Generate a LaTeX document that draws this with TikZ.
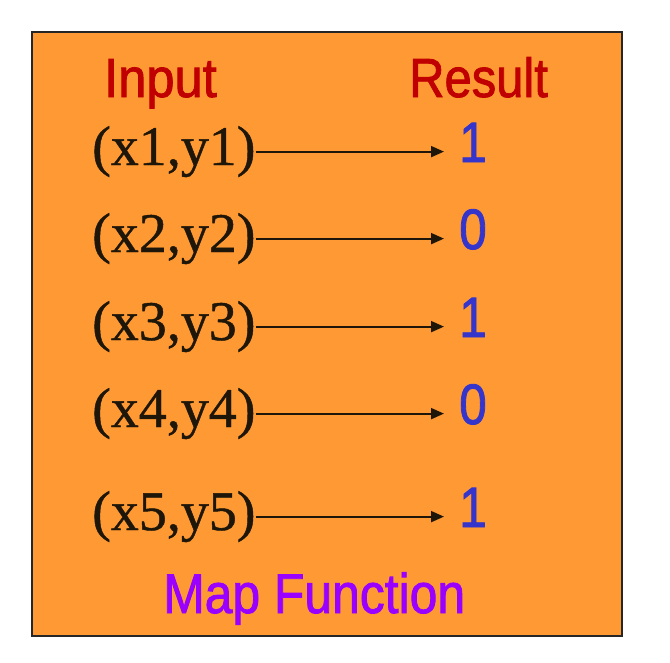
\documentclass[tikz,border=0pt]{standalone}
\usepackage{fontspec}
\setmainfont[FakeBold=0.8]{Liberation Serif}
\newfontfamily\sansfam[FakeBold=1.6]{Liberation Sans}
\usetikzlibrary{arrows.meta}
\definecolor{boxorange}{HTML}{FF9933}
\definecolor{headred}{HTML}{C00000}
\definecolor{digblue}{HTML}{3535CC}
\definecolor{mappurple}{HTML}{9900FF}
\definecolor{inkdark}{HTML}{1E1608}
\tikzset{
  head/.style={anchor=base west, inner sep=0pt, text=headred, font=\sansfam\fontsize{55}{60}\selectfont},
  inp/.style={anchor=base west, inner sep=0pt, text=inkdark, font=\fontsize{56}{60}\selectfont},
  res/.style={anchor=base west, inner sep=0pt, text=digblue, font=\sansfam\fontsize{57}{60}\selectfont},
  mapl/.style={anchor=base west, inner sep=0pt, text=mappurple, font=\sansfam\fontsize{56}{60}\selectfont},
  arr/.style={draw=inkdark, line width=2pt, -{Triangle[length=13pt,width=11pt]}, shorten >=15pt},
  frame/.style={draw=black!85, line width=2pt, fill=boxorange}
}
\newcommand{\narrowtxt}[2]{\scalebox{#1}[1]{#2}}
\begin{document}
\begin{tikzpicture}[x=1pt,y=-1pt]
\useasboundingbox (0,0) rectangle (670,662);
\fill[white] (0,0) rectangle (670,662);
\draw[frame] (32,32) rectangle (622,636);
\node[head] (hin) at (104,97) {\narrowtxt{0.92}{Input}};
\node[head] (hres) at (409,97) {\narrowtxt{0.89}{Result}};
\node[inp] (in1) at (92,165) {(x1,y1)};
\node[inp] (in2) at (92,252) {(x2,y2)};
\node[inp] (in3) at (92,340) {(x3,y3)};
\node[inp] (in4) at (92,427) {(x4,y4)};
\node[inp] (in5) at (92,530) {(x5,y5)};
\node[res] (out1) at (459,162) {\narrowtxt{0.87}{1}};
\node[res] (out2) at (459,249) {\narrowtxt{0.87}{0}};
\node[res] (out3) at (459,337) {\narrowtxt{0.87}{1}};
\node[res] (out4) at (459,424) {\narrowtxt{0.87}{0}};
\node[res] (out5) at (459,527) {\narrowtxt{0.87}{1}};
\foreach \i in {1,...,5}{
  \draw[arr] (in\i.east) -- (in\i.east -| out\i.west);
}
\node[mapl] (map) at (163,613) {\narrowtxt{0.89}{Map Function}};
\end{tikzpicture}
\end{document}
